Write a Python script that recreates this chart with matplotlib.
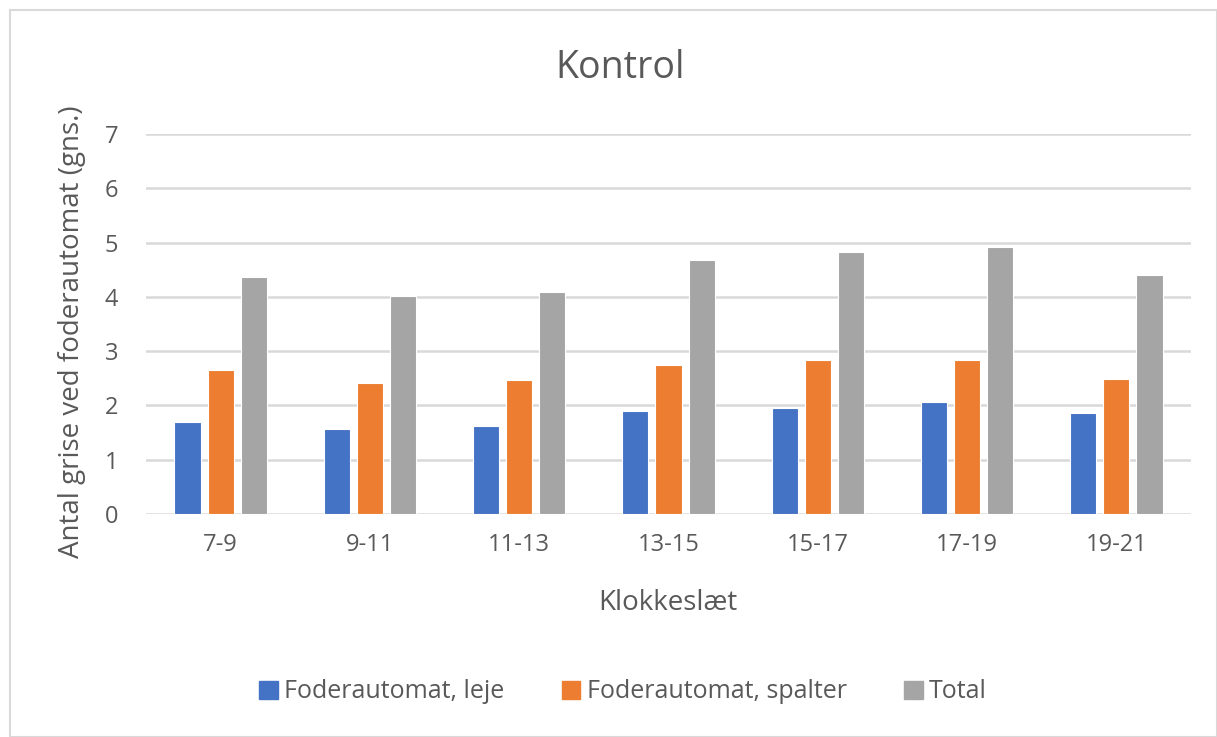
import matplotlib.pyplot as plt
import matplotlib.patches as mpatches
import numpy as np

# data
categories = ['7-9', '9-11', '11-13', '13-15', '15-17', '17-19', '19-21']
leje = [1.69, 1.57, 1.63, 1.89, 1.96, 2.07, 1.86]
spalter = [2.65, 2.41, 2.47, 2.74, 2.83, 2.83, 2.49]
total = [4.36, 4.01, 4.09, 4.67, 4.83, 4.91, 4.40]
series_names = ['Foderautomat, leje', 'Foderautomat, spalter', 'Total']
colors = ['#4472C4', '#ED7D31', '#A5A5A5']

plt.rcParams['font.family'] = ['Open Sans', 'DejaVu Sans']
text_color = '#595959'
W, H = 1217, 737

fig = plt.figure(figsize=(W / 100, H / 100), dpi=100)
ax = fig.add_axes([146 / W, 1 - 514 / H, 1045 / W, 380 / H])

x = np.arange(len(categories))
width = 0.175
offset = 0.222
for i, (vals, name, c) in enumerate(zip([leje, spalter, total], series_names, colors)):
    ax.bar(x + (i - 1) * offset, vals, width, color=c, label=name,
           edgecolor='white', linewidth=0.8, zorder=3)

ax.set_xlim(-0.5, len(categories) - 0.5)
ax.set_ylim(0, 7)
ax.set_yticks(range(0, 8))
ax.set_xticks(x)
ax.set_xticklabels(categories)
ax.grid(axis='y', color='#d9d9d9', linewidth=1.8, zorder=0)
for s in ax.spines.values():
    s.set_visible(False)
ax.tick_params(axis='both', length=0, labelsize=17, colors=text_color)
ax.tick_params(axis='x', pad=14)
ax.tick_params(axis='y', pad=20)

fig.text(620 / W, 1 - 68 / H, 'Kontrol', fontsize=27, color=text_color,
         ha='center', va='center')
fig.text(668 / W, 1 - 603 / H, 'Klokkeslæt', fontsize=20, color=text_color,
         ha='center', va='center')
fig.text(72 / W, 1 - 332 / H, 'Antal grise ved foderautomat (gns.)', fontsize=20,
         color=text_color, rotation=90, ha='center', va='center')

handles = [mpatches.Patch(color=c) for c in colors]
fig.legend(handles, series_names, loc='center', bbox_to_anchor=(623 / W, 1 - 692 / H),
           ncol=3, frameon=False, fontsize=18, handlelength=0.75, handleheight=0.75,
           handletextpad=0.25, columnspacing=2.3, labelcolor=text_color)

# light chart-area border like the Excel export
fig.patches.append(mpatches.Rectangle((10 / W, 0), 1 - 10 / W, 1 - 10 / H,
                                      transform=fig.transFigure, fill=False,
                                      edgecolor='#d9d9d9', linewidth=1.5))

fig.savefig('out.png', dpi=100, facecolor='white')
